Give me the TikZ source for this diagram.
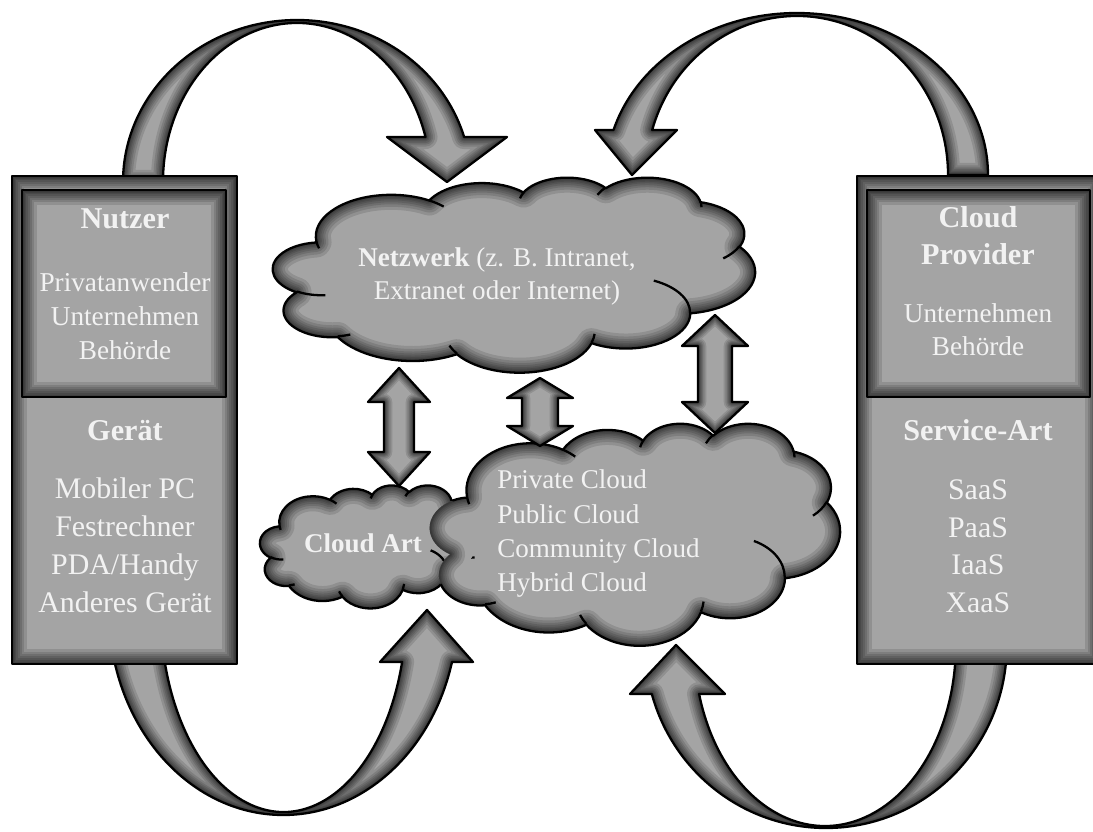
\documentclass[tikz,border=0pt]{standalone}
\usepackage{fontspec}
\setmainfont{Liberation Serif}
\usetikzlibrary{calc}
\definecolor{basegray}{gray}{0.645}
\definecolor{txtcol}{gray}{0.95}
\pgfmathdeclarefunction{vpar}{3}{\begingroup\pgfmathparse{atan2((#1)*sin(#3),(#2)*cos(#3))}\pgfmathsmuggle\pgfmathresult\endgroup}
\pgfmathdeclarefunction{vdelta}{4}{\begingroup\pgfmathparse{mod(vpar(#1,#2,#3+#4)-vpar(#1,#2,#3)+720,360)}\pgfmathsmuggle\pgfmathresult\endgroup}
\newcommand\cloudarc[4]{arc[x radius=#1,y radius=#2,start angle={vpar(#1,#2,#3)},delta angle={vdelta(#1,#2,#3,#4)}]}
\newcommand\cloudpath{(39,143.7) \cloudarc{67.53}{91.90}{-190.4875}{123.7805} \cloudarc{53.33}{72.67}{-144.1024}{89.9452} \cloudarc{43.65}{59.45}{-145.8079}{99.7230} \cloudarc{48.57}{65.95}{-130.9861}{117.2417} \cloudarc{53.33}{72.73}{-78.7089}{109.0269} \cloudarc{67.75}{92.20}{-46.2673}{130.2690} \cloudarc{57.85}{78.67}{0.6250}{114.0333} \cloudarc{67.52}{92.15}{22.4516}{115.1726} \cloudarc{77.20}{105.43}{66.2426}{75.7110} \cloudarc{43.60}{59.18}{-274.9421}{146.7356} \cloudarc{43.45}{59.45}{-246.8285}{152.5189} -- cycle}
\newcommand\cloudinner{(46.93,261.77) \cloudarc{43.45}{59.45}{86.7420}{26.4295} (69.28,348.99) \cloudarc{43.60}{59.18}{73.6105}{11.4475} (164.78,390.90) \cloudarc{67.52}{92.15}{137.6242}{14.0811} (288.27,347.51) \cloudarc{67.52}{92.15}{6.4533}{15.9984} (341.29,229.54) \cloudarc{57.85}{78.67}{-70.2924}{70.9174} (417.98,153.54) \cloudarc{53.33}{72.73}{30.3180}{27.7515} (383.24,54.26) \cloudarc{48.57}{65.95}{-13.7443}{14.8589} (290.78,39.52) \cloudarc{48.57}{65.95}{-149.1815}{18.1954} (221.41,47.20) \cloudarc{43.65}{59.45}{-163.4943}{17.6864} (140.00,51.92) \cloudarc{67.53}{91.90}{-66.7070}{12.3194} (41.27,157.89) \cloudarc{67.53}{91.90}{157.6544}{11.8582}}
\tikzset{
  outline/.style={draw=black, line width=1.3pt, line join=round},
  bodyS/.style={text=txtcol, font=\fontsize{15.5}{18}\selectfont, inner sep=0pt, anchor=base},
  bodyL/.style={text=txtcol, font=\fontsize{17}{20}\selectfont, inner sep=0pt, anchor=base},
  head/.style={text=txtcol, font=\fontsize{17.2}{20}\selectfont\bfseries, inner sep=0pt, anchor=base},
  cbody/.style={text=txtcol, font=\fontsize{15.4}{18}\selectfont, inner sep=0pt, anchor=base},
  cbold/.style={text=txtcol, font=\fontsize{15.4}{18}\selectfont\bfseries, inner sep=0pt, anchor=base},
}
\newcommand\glowfill[2][1]{%
  \begin{scope}
    \clip #2;
    \fill[basegray] #2;
    \foreach \gw in {30,24,19,15,11,8,5,3}{\draw[line width=#1*\gw*0.57pt, black, opacity=0.12, line join=round] #2;}
  \end{scope}}
\newcommand\glowpath[2][1]{\glowfill[#1]{#2}\draw[outline] #2;}
\newcommand\dblarrow[5]{\glowpath[0.55]{(#1) -- ($(#1)+(#5,#3)$) -- ($(#1)+(#4,#3)$) -- ($(#2)+(#4,-#3)$) -- ($(#2)+(#5,-#3)$) -- (#2) -- ($(#2)+(-#5,-#3)$) -- ($(#2)+(-#4,-#3)$) -- ($(#1)+(-#4,#3)$) -- ($(#1)+(-#5,#3)$) -- cycle}}
\begin{document}
\begin{tikzpicture}[x=0.02cm, y=-0.02cm]
\useasboundingbox (0,0) rectangle (1093,832);
\fill[white] (0,0) rectangle (1093,832);
% curved block arrows
\glowpath[0.8]{(123,182) arc[x radius=174,y radius=162,start angle=180,end angle=343.9] -- (507,137) -- (447,182) -- (387,137) -- (425.5,137) arc[x radius=134,y radius=159,start angle=343.56,end angle=180] -- cycle}
\glowpath[0.8]{(988,175) arc[x radius=191,y radius=162,start angle=360,end angle=196.13] -- (595,130) -- (632,175) -- (677,130) -- (652.2,130) arc[x radius=151,y radius=159,start angle=196.44,end angle=360] -- cycle}
\glowpath[0.8]{(108.9,610) arc[x radius=174.4,y radius=205,start angle=180,end angle=14.69] -- (473,662) -- (427,610) -- (380,662) -- (402.1,662) arc[x radius=122.8,y radius=202,start angle=14.92,end angle=180] -- cycle}
\glowpath[0.8]{(1006.8,645) arc[x radius=180.8,y radius=183,start angle=0,end angle=164.47] -- (630,694) -- (676,645) -- (725,694) -- (699.1,694) arc[x radius=130.8,y radius=181,start angle=164.29,end angle=0] -- cycle}
% boxes
\glowpath{(12,176) rectangle (237,664)}
\glowpath{(22,190) rectangle (226,397)}
\glowpath{(857,176) rectangle (1100,664)}
\glowpath{(867,190) rectangle (1090,397)}
% clouds
\begin{scope}[shift={(273,177)}, xscale=482/432, yscale=195/432]
  \glowpath{\cloudpath}
  \draw[outline] \cloudinner;
\end{scope}
\begin{scope}[shift={(260,485)}, xscale=216/432, yscale=123/432]
  \glowpath{\cloudpath}
  \draw[outline] \cloudinner;
\end{scope}
\begin{scope}[shift={(430,423)}, xscale=410/432, yscale=222/432]
  \glowfill{\cloudpath}
\end{scope}
\begin{scope}[shift={(260,485)}, xscale=216/432, yscale=123/432, even odd rule]
  \clip (-700,-1900) -- (-700,1500) -- (1900,1500) -- (1900,-1900) -- cycle \cloudpath;
  \begin{scope}[reset cm, shift={(430,423)}, xscale=410/432, yscale=222/432]
    \draw[outline] \cloudpath;
    \draw[outline] \cloudinner;
  \end{scope}
\end{scope}
% double arrows
\coordinate (d1t) at (399,368); \coordinate (d1b) at (399,486);
\coordinate (d2t) at (540,378); \coordinate (d2b) at (540,446);
\coordinate (d3t) at (715,315); \coordinate (d3b) at (715,433);
\dblarrow{d1t}{d1b}{34}{15}{31}
\dblarrow{d2t}{d2b}{20}{18}{33}
\dblarrow{d3t}{d3b}{31}{17}{33}
% texts left
\node[head] (nutzer) at (125,228) {Nutzer};
\node[bodyS] (u1) at (125,291) {Privatanwender};
\node[bodyS] (u2) at (125,325) {Unternehmen};
\node[bodyS] (u3) at (125,359) {Behörde};
\node[head] (geraet) at (125,440) {Gerät};
\node[bodyL] (g1) at (125,498) {Mobiler PC};
\node[bodyL] (g2) at (125,536) {Festrechner};
\node[bodyL] (g3) at (125,574) {PDA/Handy};
\node[bodyL] (g4) at (125,612) {Anderes Gerät};
% texts right
\node[head] (cp1) at (978,227) {Cloud};
\node[head] (cp2) at (978,264) {Provider};
\node[bodyS] (p1) at (978,322) {Unternehmen};
\node[bodyS] (p2) at (978,355) {Behörde};
\node[head] (sa) at (978,440) {Service-Art};
\node[bodyL] (s1) at (978,499) {SaaS};
\node[bodyL] (s2) at (978,537) {PaaS};
\node[bodyL] (s3) at (978,574) {IaaS};
\node[bodyL] (s4) at (978,612) {XaaS};
% cloud texts
\node[cbody] (n1) at (497,266) {\textbf{Netzwerk} (z. B. Intranet,};
\node[cbody] (n2) at (497,299) {Extranet oder Internet)};
\node[cbold] (ca) at (363,552) {Cloud Art};
\node[cbody, anchor=base west] (c1) at (497,488) {Private Cloud};
\node[cbody, anchor=base west] (c2) at (497,523) {Public Cloud};
\node[cbody, anchor=base west] (c3) at (497,557) {Community Cloud};
\node[cbody, anchor=base west] (c4) at (497,591) {Hybrid Cloud};
\end{tikzpicture}
\end{document}
